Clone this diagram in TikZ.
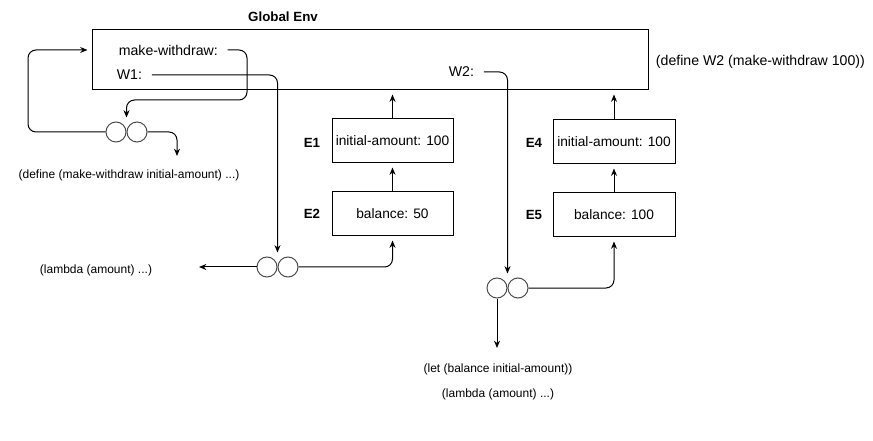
\documentclass[tikz,border=0pt]{standalone}
\usepackage{fontspec}
\setmainfont{Liberation Sans}
\usetikzlibrary{arrows.meta,positioning,calc}

\begin{document}
\begin{tikzpicture}[x=0.75pt,y=-0.75pt,line width=0.75pt,
  every node/.style={font=\fontsize{9}{11}\selectfont},
  big/.style={font=\fontsize{10.6}{12}\selectfont},
  slot/.style={big,anchor=west,inner xsep=7pt},
  envbox/.style={draw,inner sep=0pt,minimum height=33pt,font=\fontsize{10.3}{12}\selectfont},
  obj/.style={draw=black!70,circle,inner sep=0pt,minimum size=15pt},
  link/.style={-{Stealth[length=5.5pt,width=4.5pt]},rounded corners=6pt,shorten >=3pt},
  envname/.style={font=\fontsize{10}{12}\selectfont\bfseries}]
\useasboundingbox (0,0) rectangle (873,441) ;

% environnement global
\node (titre) [envname] at (283,17) {Global Env} ;
\node (global) [draw,minimum width=417pt,minimum height=45pt,inner sep=0pt] at (370,60) {} ;
\node (mw) [slot] at (109,50) {make-withdraw:} ;
\node (w1) [slot] at (107,75) {W1:} ;
\node (w2) [slot] at (439,72) {W2:} ;
\node (defw2) [big,anchor=west] at (651,62) {(define W2 (make-withdraw 100))} ;

% environnements E1, E2, E4, E5
\node (e1) [envbox,minimum width=90.75pt] at (392.5,141) {initial-amount: 100} ;
\node (e2) [envbox,minimum width=90.75pt] at (392.5,214) {balance: 50} ;
\node (e4) [envbox,minimum width=91.5pt] at (614,142) {initial-amount: 100} ;
\node (e5) [envbox,minimum width=91.5pt] at (614,215) {balance: 100} ;
\node (ne1) [envname] at (312,143) {E1} ;
\node (ne2) [envname] at (312,214) {E2} ;
\node (ne4) [envname] at (534,143) {E4} ;
\node (ne5) [envname] at (534,215) {E5} ;

% les procedures (deux cercles)
\node (p1a) [obj] at (116,132) {} ;
\node (p1b) [obj,right=0pt of p1a] {} ;
\node (p2a) [obj] at (267,267) {} ;
\node (p2b) [obj,right=0pt of p2a] {} ;
\node (p3a) [obj] at (497,288) {} ;
\node (p3b) [obj,right=0pt of p3a] {} ;
\coordinate (p1top) at ($(p1a.north)!.5!(p1b.north)$) ;
\coordinate (p2top) at ($(p2a.north)!.5!(p2b.north)$) ;
\coordinate (p3top) at ($(p3a.north)!.5!(p3b.north)$) ;

\node (defmw) at (129,175) {(define (make-withdraw initial-amount) ...)} ;
\node (lam1) at (96,270) {(lambda (amount) ...)} ;
\node (let2) at (498,369) {(let (balance initial-amount))} ;
\node (lam2) at (498,394) {(lambda (amount) ...)} ;
\coordinate (defend) at (177,160) ;
\coordinate (lamend) at (195,267) ;
\coordinate (letend) at (497,352) ;

% fleches
\draw[link] (mw.east) -| (247,100) -| (p1top) ;
\draw[link] (p1a.west) -| (28,50) -- (global.west |- 0,50) ;
\draw[link] (p1b.east) -| (defend) ;

\draw[link] (w1.east) -| (p2top) ;
\draw[link] (p2a.west) -- (lamend) ;
\draw[link] (p2b.east) -| (e2.south) ;
\draw[link] (e2.north) -- (e1.south) ;
\draw[link] (e1.north) -- (e1.north |- global.south) ;

\draw[link] (w2.east) -| (p3top) ;
\draw[link] (p3a.south) -- (letend) ;
\draw[link] (p3b.east) -| (e5.south) ;
\draw[link] (e5.north) -- (e4.south) ;
\draw[link] (e4.north) -- (e4.north |- global.south) ;
\end{tikzpicture}
\end{document}
